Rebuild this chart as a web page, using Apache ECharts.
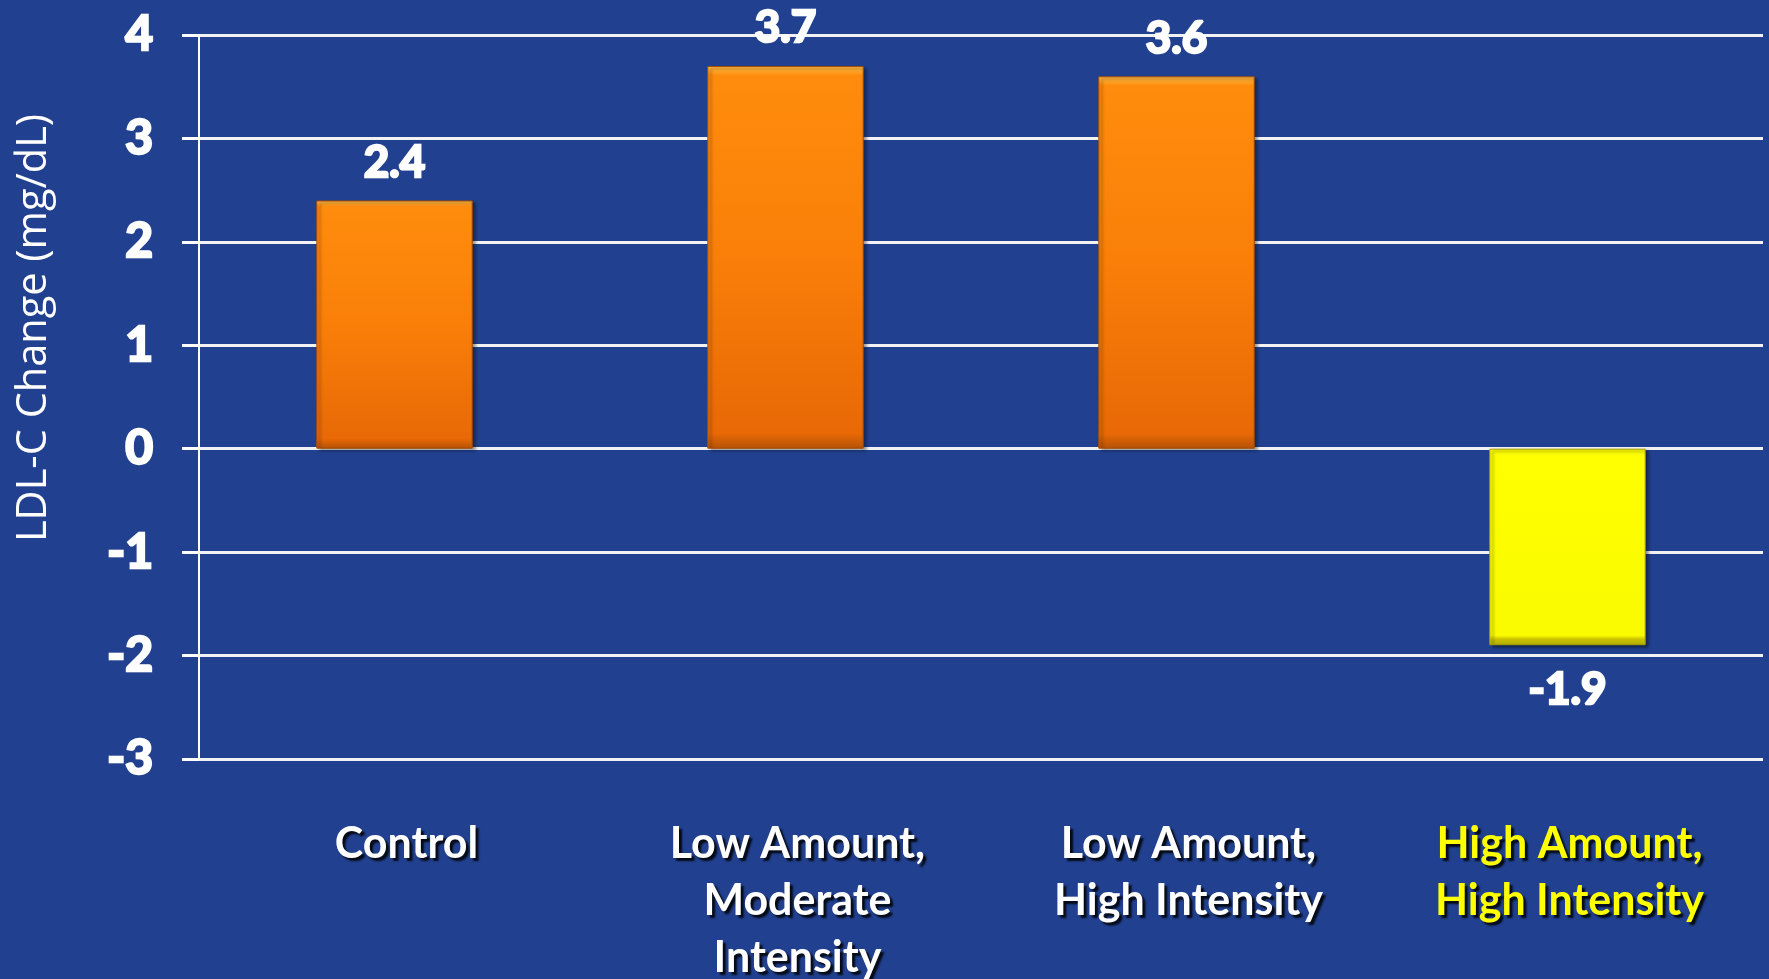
<!DOCTYPE html>
<html>
<head>
<meta charset="utf-8">
<title>LDL-C Change</title>
<script src="https://cdn.jsdelivr.net/npm/echarts@6/dist/echarts.min.js"></script>
<style>
  html, body { margin: 0; padding: 0; background: #21408f; }
  #chart { width: 1769px; height: 979px; }
</style>
</head>
<body>
<div id="chart"></div>
<script>
// Exercise groups along the x axis
const categories = [
  'Control',
  'Low Amount,\nModerate\nIntensity',
  'Low Amount,\nHigh Intensity',
  'High Amount,\nHigh Intensity'
];
// Change in LDL-C (mg/dL) per group
const ldlChange = [2.4, 3.7, 3.6, -1.9];
// Group singled out in yellow
const highlighted = [false, false, false, true];
const yTitle = 'LDL-C Change (mg/dL)';

const BG = '#21408f';
const WHITE = '#ffffff';
const YELLOW = '#ffff00';

const orangeFill = {
  type: 'linear', x: 0, y: 0, x2: 0, y2: 1,
  colorStops: [
    { offset: 0, color: '#ffc04a' },
    { offset: 0.025, color: '#ff8c0c' },
    { offset: 0.5, color: '#f97f09' },
    { offset: 0.96, color: '#e86906' },
    { offset: 1, color: '#b55206' }
  ]
};
const yellowFill = {
  type: 'linear', x: 0, y: 0, x2: 0, y2: 1,
  colorStops: [
    { offset: 0, color: '#ffff00' },
    { offset: 0.95, color: '#fafa00' },
    { offset: 0.97, color: '#c9c100' },
    { offset: 1, color: '#b3ad00' }
  ]
};

const shadowText = {
  textShadowColor: 'rgba(0,0,0,0.85)',
  textShadowOffsetX: 3,
  textShadowOffsetY: 3,
  textShadowBlur: 2
};

const xData = categories.map((c, i) => highlighted[i]
  ? { value: c, textStyle: { color: YELLOW, padding: [0, 0, 0, 4] } }
  : c);

const barData = ldlChange.map((v, i) => ({
  value: v,
  itemStyle: {
    color: highlighted[i] ? yellowFill : orangeFill,
    borderColor: highlighted[i] ? '#a8a200' : '#a94d05',
    borderWidth: 1
  },
  label: { position: v < 0 ? 'bottom' : 'top', distance: v < 0 ? 23 : 16 }
}));

const chart = echarts.init(document.getElementById('chart'), null, { renderer: 'canvas' });

chart.setOption({
  backgroundColor: BG,
  animation: false,
  grid: {
    left: 199, right: 6, top: 35, bottom: 220,
    containLabel: false,
    outerBoundsMode: 'none'
  },
  xAxis: {
    type: 'category',
    data: xData,
    axisLine: { show: false, onZero: false },
    axisTick: { show: false },
    splitLine: { show: false },
    axisLabel: {
      interval: 0,
      margin: 57,
      color: WHITE,
      fontFamily: 'Lato',
      fontWeight: 'bold',
      fontSize: 43,
      lineHeight: 57,
      padding: [0, 0, 0, 24],
      ...shadowText
    }
  },
  yAxis: {
    type: 'value',
    min: -3,
    max: 4,
    interval: 1,
    axisLine: { show: true, lineStyle: { color: WHITE, width: 2 } },
    axisTick: { show: true, inside: false, length: 17, lineStyle: { color: WHITE, width: 3 } },
    splitLine: { show: true, lineStyle: { color: '#f2f2f2', width: 3 } },
    axisLabel: {
      margin: 46,
      color: WHITE,
      fontFamily: 'Lato',
      fontWeight: 'bold',
      fontSize: 48,
      textBorderColor: WHITE,
      textBorderWidth: 2.5
    }
  },
  graphic: [{
    type: 'text',
    x: 34,
    y: 328,
    rotation: Math.PI / 2,
    style: {
      text: yTitle,
      fill: WHITE,
      font: '41.5px "Open Sans"',
      align: 'center',
      verticalAlign: 'middle'
    }
  }],
  series: [{
    type: 'bar',
    data: barData,
    barWidth: '40%',
    itemStyle: {
      shadowColor: 'rgba(0,0,0,0.45)',
      shadowBlur: 3,
      shadowOffsetX: 3,
      shadowOffsetY: 2
    },
    label: {
      show: true,
      color: WHITE,
      fontFamily: 'Lato',
      fontWeight: 'bold',
      fontSize: 44,
      textBorderColor: WHITE,
      textBorderWidth: 2.5,
      formatter: p => String(p.value)
    }
  }]
});
</script>
</body>
</html>
